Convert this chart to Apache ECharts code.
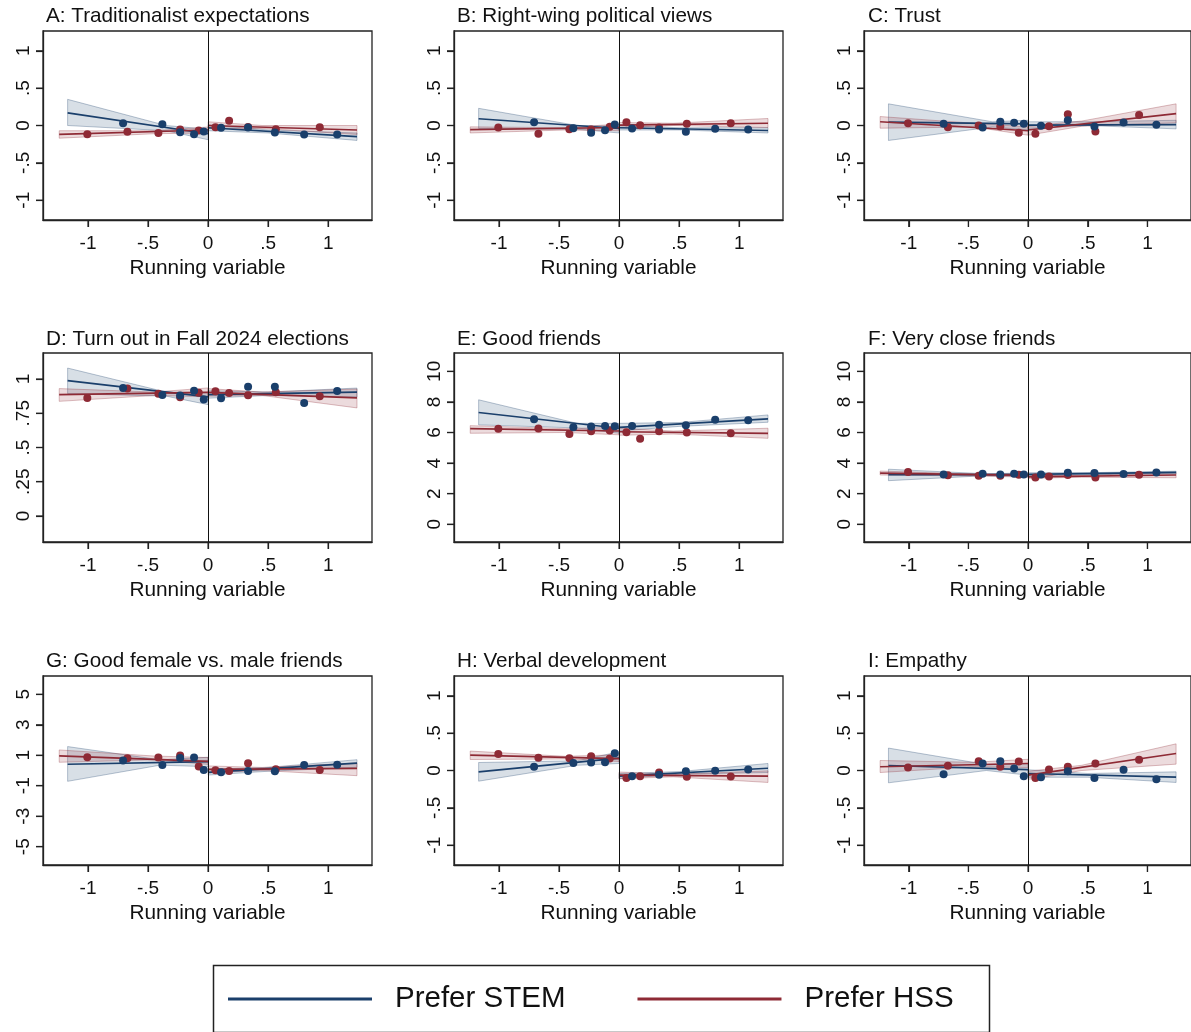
<!DOCTYPE html>
<html>
<head>
<meta charset="utf-8">
<title>RD plots by field preference</title>
<script src="https://cdn.jsdelivr.net/npm/echarts@6/dist/echarts.min.js"></script>
<style>
  html, body { margin: 0; padding: 0; background: #fff; }
  #chart { width: 1191px; height: 1032px; }
</style>
</head>
<body>
<div id="chart"></div>
<script>
// Bin midpoints of the running variable (same bins in every panel)
const binX_STEM = [-0.708, -0.381, -0.233, -0.117, -0.036, 0.108, 0.333, 0.556, 0.80, 1.075];
const binX_HSS  = [-1.006, -0.672, -0.414, -0.233, -0.078, 0.061, 0.175, 0.333, 0.564, 0.93];

const panelTitles = [
  'A: Traditionalist expectations',
  'B: Right-wing political views',
  'C: Trust',
  'D: Turn out in Fall 2024 elections',
  'E: Good friends',
  'F: Very close friends',
  'G: Good female vs. male friends',
  'H: Verbal development',
  'I: Empathy'
];

// y-axis tick labels
const yTicksStd      = [-1, -0.5, 0, 0.5, 1];
const yTicksTurnout  = [0, 0.25, 0.5, 0.75, 1];
const yTicksFriends  = [0, 2, 4, 6, 8, 10];
const yTicksRatio    = [-5, -3, -1, 1, 3, 5];
const xTicks         = [-1, -0.5, 0, 0.5, 1];

// Binned means (order follows binX_STEM / binX_HSS)
const stemA = [0.03, 0.018, -0.09, -0.116, -0.08, -0.03, -0.027, -0.094, -0.12, -0.12];
const hssA  = [-0.116, -0.085, -0.10, -0.054, -0.067, -0.022, 0.063, -0.02, -0.05, -0.022];
const stemB = [0.045, -0.036, -0.098, -0.063, 0.013, -0.04, -0.054, -0.085, -0.045, -0.054];
const hssB  = [-0.027, -0.11, -0.05, -0.054, -0.018, 0.045, 0.005, -0.027, 0.022, 0.03];
const stemC = [0.022, -0.027, 0.05, 0.036, 0.022, -0.005, 0.07, -0.013, 0.04, 0.01];
const hssC  = [0.03, -0.022, 0.0, -0.013, -0.098, -0.11, -0.01, 0.15, -0.08, 0.14];
const stemD = [0.934, 0.883, 0.879, 0.915, 0.85, 0.859, 0.944, 0.944, 0.825, 0.913];
const hssD  = [0.862, 0.93, 0.893, 0.867, 0.90, 0.91, 0.898, 0.881, 0.903, 0.874];
const stemE = [6.87, 6.35, 6.39, 6.43, 6.41, 6.43, 6.5, 6.48, 6.83, 6.8];
const hssE  = [6.24, 6.26, 5.91, 6.08, 6.13, 6.02, 5.6, 6.08, 6.0, 5.95];
const stemF = [3.26, 3.3, 3.26, 3.3, 3.26, 3.26, 3.37, 3.35, 3.28, 3.39];
const hssF  = [3.41, 3.2, 3.17, 3.17, 3.24, 3.06, 3.13, 3.22, 3.06, 3.24];
const stemG = [0.65, 0.36, 0.82, 0.85, 0.03, -0.12, -0.03, -0.05, 0.36, 0.38];
const hssG  = [0.87, 0.8, 0.85, 0.98, 0.27, 0.01, -0.03, 0.47, 0.08, 0.03];
const stemH = [0.05, 0.1, 0.107, 0.11, 0.23, -0.076, -0.058, -0.01, -0.005, 0.013];
const hssH  = [0.22, 0.17, 0.165, 0.19, 0.16, -0.1, -0.076, -0.027, -0.085, -0.08];
const stemI = [-0.05, 0.094, 0.125, 0.027, -0.076, -0.09, -0.01, -0.1, 0.01, -0.116];
const hssI  = [0.04, 0.063, 0.125, 0.05, 0.12, -0.1, 0.013, 0.05, 0.094, 0.143];

// Linear fits on each side of the cutoff: [x0, y0, x1, y1]
const stemFitA = [[-1.17, 0.17, 0, -0.11], [0, -0.03, 1.24, -0.15]];
const hssFitA  = [[-1.24, -0.12, 0, -0.06], [0, 0.0, 1.24, -0.06]];
const stemFitB = [[-1.17, 0.09, 0, -0.04], [0, -0.03, 1.24, -0.067]];
const hssFitB  = [[-1.24, -0.054, 0, -0.027], [0, 0.005, 1.24, 0.03]];
const stemFitC = [[-1.17, 0.045, 0, 0.022], [0, 0.005, 1.24, 0.013]];
const hssFitC  = [[-1.24, 0.05, 0, -0.07], [0, -0.06, 1.24, 0.16]];
const stemFitD = [[-1.17, 0.988, 0, 0.869], [0, 0.886, 1.24, 0.905]];
const hssFitD  = [[-1.24, 0.886, 0, 0.903], [0, 0.903, 1.24, 0.862]];
const stemFitE = [[-1.17, 7.31, 0, 6.28], [0, 6.33, 1.24, 6.89]];
const hssFitE  = [[-1.24, 6.26, 0, 6.1], [0, 6.05, 1.24, 5.95]];
const stemFitF = [[-1.17, 3.24, 0, 3.24], [0, 3.26, 1.24, 3.39]];
const hssFitF  = [[-1.24, 3.35, 0, 3.2], [0, 3.1, 1.24, 3.22]];
const stemFitG = [[-1.17, 0.41, 0, 0.58], [0, -0.12, 1.24, 0.49]];
const hssFitG  = [[-1.24, 0.96, 0, 0.6], [0, 0.08, 1.24, 0.14]];
const stemFitH = [[-1.17, -0.018, 0, 0.165], [0, -0.076, 1.24, 0.03]];
const hssFitH  = [[-1.24, 0.205, 0, 0.16], [0, -0.063, 1.24, -0.076]];
const stemFitI = [[-1.17, 0.067, 0, 0.013], [0, -0.04, 1.24, -0.09]];
const hssFitI  = [[-1.24, 0.05, 0, 0.094], [0, -0.063, 1.24, 0.228]];

// 95% confidence bands, per side: [x, lower, upper]
const stemBandA = [[[-1.17, 0.0, 0.35], [-0.35, -0.07, 0.0], [0, -0.19, -0.05]], [[0, -0.07, 0.01], [0.5, -0.1, -0.06], [1.24, -0.2, -0.1]]];
const hssBandA  = [[[-1.24, -0.17, -0.07], [-0.45, -0.11, -0.07], [0, -0.1, -0.02]], [[0, -0.04, 0.05], [0.45, -0.04, 0.0], [1.24, -0.12, 0.0]]];
const stemBandB = [[[-1.17, -0.04, 0.23], [-0.35, -0.05, 0.0], [0, -0.1, -0.01]], [[0, -0.06, 0.0], [0.5, -0.06, -0.03], [1.24, -0.1, -0.03]]];
const hssBandB  = [[[-1.24, -0.1, -0.018], [-0.45, -0.06, -0.03], [0, -0.07, 0.02]], [[0, -0.03, 0.04], [0.45, 0.0, 0.03], [1.24, -0.027, 0.094]]];
const stemBandC = [[[-1.17, -0.2, 0.29], [-0.3, -0.02, 0.05], [0, -0.06, 0.07]], [[0, -0.04, 0.05], [0.5, 0.0, 0.05], [1.24, -0.045, 0.07]]];
const hssBandC  = [[[-1.24, -0.036, 0.12], [-0.45, -0.02, 0.03], [0, -0.13, -0.018]], [[0, -0.13, -0.01], [0.45, -0.01, 0.06], [1.24, 0.036, 0.29]]];
const stemBandD = [[[-1.17, 0.893, 1.08], [-0.35, 0.875, 0.905], [0, 0.813, 0.903]], [[0, 0.86, 0.915], [0.5, 0.88, 0.905], [1.24, 0.869, 0.934]]];
const hssBandD  = [[[-1.24, 0.837, 0.93], [-0.45, 0.88, 0.905], [0, 0.87, 0.935]], [[0, 0.875, 0.93], [0.45, 0.88, 0.905], [1.24, 0.789, 0.927]]];
const stemBandE = [[[-1.17, 6.5, 8.14], [-0.35, 6.3, 6.6], [0, 5.95, 6.6]], [[0, 6.1, 6.6], [0.5, 6.4, 6.65], [1.24, 6.67, 7.15]]];
const hssBandE  = [[[-1.24, 5.95, 6.45], [-0.45, 6.0, 6.25], [0, 5.85, 6.35]], [[0, 5.82, 6.28], [0.45, 5.9, 6.1], [1.24, 5.62, 6.28]]];
const stemBandF = [[[-1.17, 2.85, 3.6], [-0.35, 3.18, 3.3], [0, 3.12, 3.36]], [[0, 3.15, 3.37], [0.5, 3.25, 3.37], [1.24, 3.3, 3.47]]];
const hssBandF  = [[[-1.24, 3.22, 3.48], [-0.45, 3.16, 3.28], [0, 3.08, 3.32]], [[0, 3.0, 3.22], [0.45, 3.08, 3.2], [1.24, 3.04, 3.38]]];
const stemBandG = [[[-1.17, -0.71, 1.57], [-0.4, 0.35, 0.7], [0, 0.25, 0.87]], [[0, -0.3, 0.08], [0.5, -0.05, 0.2], [1.24, 0.21, 0.71]]];
const hssBandG  = [[[-1.24, 0.54, 1.35], [-0.45, 0.7, 0.95], [0, 0.4, 0.85]], [[0, -0.15, 0.3], [0.45, 0.0, 0.2], [1.24, -0.34, 0.49]]];
const stemBandH = [[[-1.17, -0.143, 0.107], [-0.35, 0.07, 0.13], [0, 0.094, 0.25]], [[0, -0.11, -0.04], [0.5, -0.05, -0.015], [1.24, -0.027, 0.094]]];
const hssBandH  = [[[-1.24, 0.147, 0.26], [-0.45, 0.155, 0.19], [0, 0.12, 0.21]], [[0, -0.11, -0.02], [0.45, -0.085, -0.05], [1.24, -0.16, -0.005]]];
const stemBandI = [[[-1.17, -0.165, 0.3], [-0.35, 0.0, 0.08], [0, -0.063, 0.094]], [[0, -0.09, 0.01], [0.5, -0.09, -0.04], [1.24, -0.16, -0.018]]];
const hssBandI  = [[[-1.24, -0.027, 0.134], [-0.45, 0.05, 0.11], [0, 0.04, 0.15]], [[0, -0.12, -0.01], [0.45, 0.0, 0.07], [1.24, 0.085, 0.357]]];

const STEM_COLOR = '#1a3f6b';
const HSS_COLOR = '#8e2a35';
const STEM_FILL = 'rgba(26, 63, 107, 0.17)';
const HSS_FILL = 'rgba(142, 42, 53, 0.17)';
const STEM_EDGE = 'rgba(26, 63, 107, 0.30)';
const HSS_EDGE = 'rgba(142, 42, 53, 0.30)';
const AXIS_COLOR = '#222';
const FONT = '"Liberation Sans", Arial, Helvetica, sans-serif';

const panels = [
  { stem: stemA, hss: hssA, stemFit: stemFitA, hssFit: hssFitA, stemBand: stemBandA, hssBand: hssBandA, yTicks: yTicksStd,     yMin: -1.265, yMax: 1.265 },
  { stem: stemB, hss: hssB, stemFit: stemFitB, hssFit: hssFitB, stemBand: stemBandB, hssBand: hssBandB, yTicks: yTicksStd,     yMin: -1.265, yMax: 1.265 },
  { stem: stemC, hss: hssC, stemFit: stemFitC, hssFit: hssFitC, stemBand: stemBandC, hssBand: hssBandC, yTicks: yTicksStd,     yMin: -1.265, yMax: 1.265 },
  { stem: stemD, hss: hssD, stemFit: stemFitD, hssFit: hssFitD, stemBand: stemBandD, hssBand: hssBandD, yTicks: yTicksTurnout, yMin: -0.19,  yMax: 1.19 },
  { stem: stemE, hss: hssE, stemFit: stemFitE, hssFit: hssFitE, stemBand: stemBandE, hssBand: hssBandE, yTicks: yTicksFriends, yMin: -1.16,  yMax: 11.2 },
  { stem: stemF, hss: hssF, stemFit: stemFitF, hssFit: hssFitF, stemBand: stemBandF, hssBand: hssBandF, yTicks: yTicksFriends, yMin: -1.16,  yMax: 11.2 },
  { stem: stemG, hss: hssG, stemFit: stemFitG, hssFit: hssFitG, stemBand: stemBandG, hssBand: hssBandG, yTicks: yTicksRatio,   yMin: -6.2,   yMax: 6.2 },
  { stem: stemH, hss: hssH, stemFit: stemFitH, hssFit: hssFitH, stemBand: stemBandH, hssBand: hssBandH, yTicks: yTicksStd,     yMin: -1.265, yMax: 1.265 },
  { stem: stemI, hss: hssI, stemFit: stemFitI, hssFit: hssFitI, stemBand: stemBandI, hssBand: hssBandI, yTicks: yTicksStd,     yMin: -1.265, yMax: 1.265 }
];

// Panel layout in pixels
const colLeft = [43, 454, 864];
const rowTop = [31, 353, 676];
const gridW = 329, gridH = 189;
const titleTop = [6, 329, 651];
const titleLeft = [46, 457, 868];
const TICK_LEN = 7;

// Stata-style labels: drop the leading zero (".5", "-.5", ".25")
function stataLabel(v) {
  return String(v).replace(/^(-?)0\./, '$1.');
}

const grids = [], xAxes = [], yAxes = [], titles = [], series = [];

function bandSeries(idx, bands, fill, edge) {
  return bands.map(side => ({
    type: 'custom',
    name: fill === STEM_FILL ? 'Prefer STEM' : 'Prefer HSS',
    xAxisIndex: idx, yAxisIndex: idx,
    z: 1, silent: true,
    data: [[side[0][0], side[0][1]]],
    renderItem: function (params, api) {
      const lower = side.map(p => api.coord([p[0], p[1]]));
      const upper = side.slice().reverse().map(p => api.coord([p[0], p[2]]));
      return {
        type: 'polygon',
        shape: { points: lower.concat(upper) },
        style: { fill: fill, stroke: edge, lineWidth: 1 }
      };
    }
  }));
}

function fitSeries(idx, fits, color, name) {
  return fits.map(f => ({
    type: 'line', name: name,
    xAxisIndex: idx, yAxisIndex: idx,
    z: 3, silent: true,
    symbol: 'none',
    data: [[f[0], f[1]], [f[2], f[3]]],
    lineStyle: { color: color, width: 1.7 },
    itemStyle: { color: color }
  }));
}

function tickOpts(values) {
  return { show: true, length: TICK_LEN, customValues: values, lineStyle: { color: AXIS_COLOR, width: 1.2 } };
}

panels.forEach((p, i) => {
  const col = i % 3, row = Math.floor(i / 3);
  grids.push({
    left: colLeft[col], top: rowTop[row], width: gridW, height: gridH,
    show: true, borderColor: AXIS_COLOR, borderWidth: 1.3
  });
  xAxes.push({
    type: 'value', gridIndex: i, min: -1.375, max: 1.365,
    name: 'Running variable', nameLocation: 'middle', nameGap: 38,
    nameTextStyle: { fontFamily: FONT, fontSize: 20.8, color: '#111' },
    axisLine: { show: true, onZero: false, lineStyle: { color: AXIS_COLOR, width: 1.3 } },
    axisTick: tickOpts(xTicks),
    axisLabel: { customValues: xTicks, formatter: stataLabel, margin: 14, fontFamily: FONT, fontSize: 19, color: '#111' },
    splitLine: { show: false }
  });
  yAxes.push({
    type: 'value', gridIndex: i, min: p.yMin, max: p.yMax,
    axisLine: { show: true, onZero: false, lineStyle: { color: AXIS_COLOR, width: 1.3 } },
    axisTick: tickOpts(p.yTicks),
    axisLabel: { customValues: p.yTicks, formatter: stataLabel, rotate: 90, margin: 10, fontFamily: FONT, fontSize: 19, color: '#111' },
    splitLine: { show: false }
  });
  titles.push({
    text: panelTitles[i], left: titleLeft[col], top: titleTop[row], padding: 0,
    textStyle: { fontFamily: FONT, fontSize: 20.7, fontWeight: 'normal', color: '#111' }
  });

  // Drawing order: STEM fits first so the legend picks up their line colour
  series.push(...fitSeries(i, p.stemFit, STEM_COLOR, 'Prefer STEM'));
  series.push(...fitSeries(i, p.hssFit, HSS_COLOR, 'Prefer HSS'));
  series.push(...bandSeries(i, p.stemBand, STEM_FILL, STEM_EDGE));
  series.push(...bandSeries(i, p.hssBand, HSS_FILL, HSS_EDGE));

  series.push({
    type: 'scatter', name: 'Prefer HSS', xAxisIndex: i, yAxisIndex: i, z: 4, silent: true,
    symbolSize: 8, itemStyle: { color: HSS_COLOR, opacity: 1 },
    data: binX_HSS.map((x, k) => [x, p.hss[k]])
  });
  series.push({
    type: 'scatter', name: 'Prefer STEM', xAxisIndex: i, yAxisIndex: i, z: 4, silent: true,
    symbolSize: 8, itemStyle: { color: STEM_COLOR, opacity: 1 },
    data: binX_STEM.map((x, k) => [x, p.stem[k]]),
    // cutoff line
    markLine: {
      silent: true, symbol: 'none', animation: false,
      label: { show: false },
      lineStyle: { color: '#111', width: 1, type: 'solid' },
      data: [{ xAxis: 0 }]
    }
  });
});

const legendBox = {
  type: 'rect', left: 211, top: 963, silent: true,
  shape: { width: 776, height: 67 },
  style: { fill: 'none', stroke: AXIS_COLOR, lineWidth: 1.5 }
};

const chart = echarts.init(document.getElementById('chart'), null, { renderer: 'canvas' });
chart.setOption({
  animation: false,
  backgroundColor: '#fff',
  title: titles,
  grid: grids,
  xAxis: xAxes,
  yAxis: yAxes,
  legend: {
    left: 228, top: 984, padding: 0,
    selectedMode: false,
    itemWidth: 144, itemHeight: 3, itemGap: 72,
    textStyle: { fontFamily: FONT, fontSize: 29.5, color: '#111', padding: [0, 0, 0, 18] },
    data: [
      { name: 'Prefer STEM', icon: 'rect', itemStyle: { color: STEM_COLOR } },
      { name: 'Prefer HSS', icon: 'rect', itemStyle: { color: HSS_COLOR } }
    ]
  },
  graphic: [legendBox],
  series: series
});

// Outward tick marks on the left and bottom frame, placed through each axis scale
const tickMarks = [];
panels.forEach((p, i) => {
  const col = i % 3, row = Math.floor(i / 3);
  const left = colLeft[col], bottom = rowTop[row] + gridH;
  xTicks.forEach(v => {
    const px = chart.convertToPixel({ xAxisIndex: i }, v);
    tickMarks.push({
      type: 'line', silent: true, z: 10,
      shape: { x1: px, y1: bottom, x2: px, y2: bottom + TICK_LEN },
      style: { stroke: AXIS_COLOR, lineWidth: 1.2 }
    });
  });
  p.yTicks.forEach(v => {
    const py = chart.convertToPixel({ yAxisIndex: i }, v);
    tickMarks.push({
      type: 'line', silent: true, z: 10,
      shape: { x1: left - TICK_LEN, y1: py, x2: left, y2: py },
      style: { stroke: AXIS_COLOR, lineWidth: 1.2 }
    });
  });
});
chart.setOption({ graphic: [legendBox].concat(tickMarks) });
</script>
</body>
</html>
